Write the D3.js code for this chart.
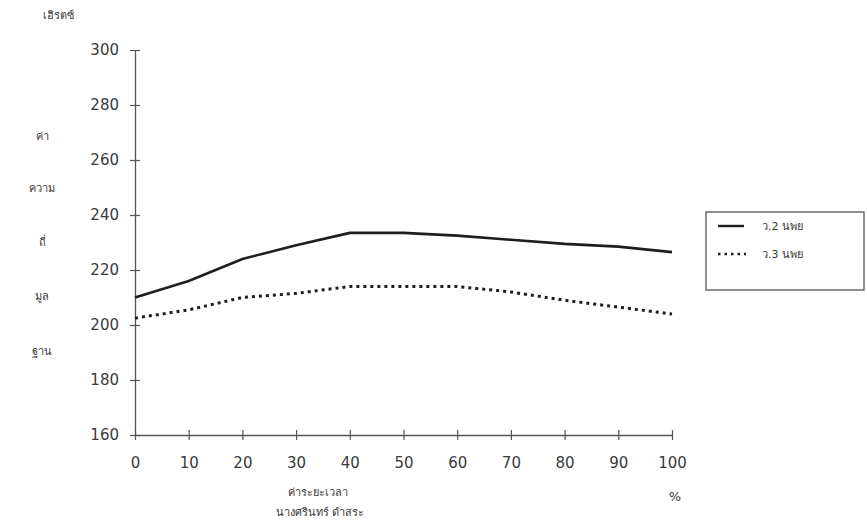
<!DOCTYPE html>
<html><head><meta charset="utf-8">
<script src="https://cdn.jsdelivr.net/npm/d3@7"></script>
<style>
body{margin:0;background:#fff;}
text{font-family:"DejaVu Sans","Noto Sans",sans-serif;fill:#3a3a3a;}
</style></head>
<body><svg id="c" width="867" height="532"></svg>
<script>
const xValues = [0,10,20,30,40,50,60,70,80,90,100];
const seriesNames = ["ว.2 นพย","ว.3 นพย"];
const series1 = [210,216,224,229,233.5,233.5,232.5,231,229.5,228.5,226.5];
const series2 = [202.5,205.5,210,211.5,214,214,214,212,209,206.5,204];
const yTicks = [160,180,200,220,240,260,280,300];
const xTicks = [0,10,20,30,40,50,60,70,80,90,100];
const yLabelWords = ["ค่า","ความ","ถี่","มูล","ฐาน"];
const unitLabel = "เฮิรตซ์";
const xTitle = ["ค่าระยะเวลา","นางศรินทร์ ดำสระ"];

const svg = d3.select("#c");
const x = d3.scaleLinear().domain([0,100]).range([135,672]);
const y = d3.scaleLinear().domain([160,300]).range([435,50]);

// axes
const yAxis = d3.axisLeft(y).tickValues(yTicks).tickSizeInner(5).tickSizeOuter(0).tickPadding(11);
const gy = svg.append("g").attr("transform","translate(135,0)").call(yAxis);
gy.selectAll(".tick line").attr("x2",5).attr("x1",-5);
const xAxis = d3.axisBottom(x).tickValues(xTicks).tickSizeInner(5).tickSizeOuter(0).tickPadding(17);
const gx = svg.append("g").attr("transform","translate(0,435)").call(xAxis);
gx.selectAll(".tick line").attr("y1",-5).attr("y2",5);
[gy,gx].forEach(g=>{
  g.select(".domain").attr("stroke","#555").attr("stroke-width",1.3);
  g.selectAll(".tick line").attr("stroke","#555").attr("stroke-width",1.2);
  g.selectAll(".tick text").style("font-size","15px").attr("fill","#4a4a4a");
});

// lines
const line = d3.line().x((d,i)=>x(xValues[i])).y(d=>y(d));
svg.append("path").datum(series1).attr("d",line).attr("fill","none")
  .attr("stroke","#1e1e1e").attr("stroke-width",2.6);
svg.append("path").datum(series2).attr("d",line).attr("fill","none")
  .attr("stroke","#1e1e1e").attr("stroke-width",3).attr("stroke-dasharray","3,4");

// unit label and y label
svg.append("text").attr("x",58).attr("y",19).attr("text-anchor","middle").style("font-size","11px").text(unitLabel);
const wordY = [140,192,246,300,355];
yLabelWords.forEach((w,i)=>{
  svg.append("text").attr("x",42).attr("y",wordY[i]).attr("text-anchor","middle").style("font-size","11px").text(w);
});

// x title
svg.append("text").attr("x",318).attr("y",496).attr("text-anchor","middle").style("font-size","11px").text(xTitle[0]);
svg.append("text").attr("x",320).attr("y",516).attr("text-anchor","middle").style("font-size","11px").text(xTitle[1]);
svg.append("text").attr("x",675).attr("y",501).attr("text-anchor","middle").style("font-size","13px").text("%");

// legend
const lg = svg.append("g");
lg.append("rect").attr("x",706).attr("y",212).attr("width",158).attr("height",78)
  .attr("fill","none").attr("stroke","#555").attr("stroke-width",1.3);
const legY = [226,254];
lg.append("line").attr("x1",718).attr("x2",744).attr("y1",legY[0]).attr("y2",legY[0]).attr("stroke","#1e1e1e").attr("stroke-width",2.4);
lg.append("line").attr("x1",718).attr("x2",746).attr("y1",legY[1]).attr("y2",legY[1]).attr("stroke","#1e1e1e").attr("stroke-width",2.6).attr("stroke-dasharray","2.5,4");
seriesNames.forEach((n,i)=>{
  lg.append("text").attr("x",762).attr("y",legY[i]+4).style("font-size","11px").text(n);
});
</script></body></html>
